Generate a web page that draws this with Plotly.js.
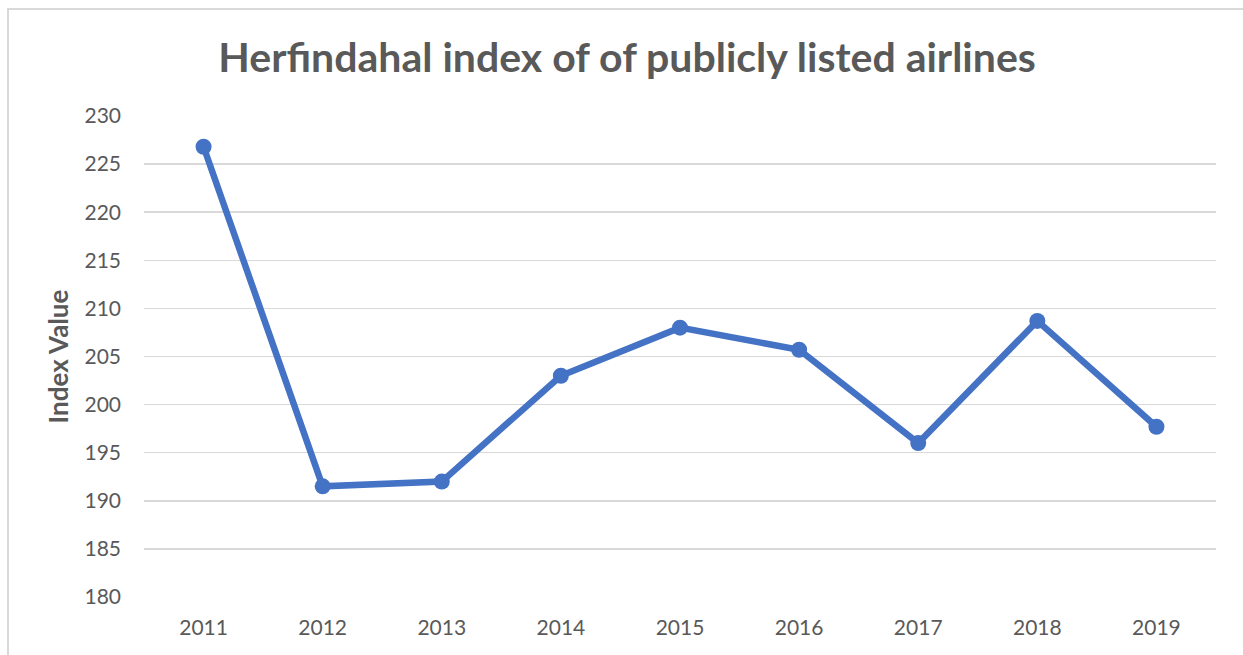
<!DOCTYPE html>
<html>
<head>
<meta charset="utf-8">
<script src="https://cdn.plot.ly/plotly-3.0.1.min.js"></script>
<style>
  html, body { margin: 0; padding: 0; background: #ffffff; }
  #wrap { position: relative; width: 1243px; height: 655px; }
  #chart { position: absolute; left: 0; top: 0; width: 1243px; height: 655px; }
  #frame { position: absolute; left: 7px; top: 8px; width: 1240px; height: 650px;
           border-top: 2px solid #d9d9d9; border-left: 2px solid #d9d9d9; pointer-events: none; }
</style>
</head>
<body>
<div id="wrap">
  <div id="chart"></div>
  <div id="frame"></div>
</div>
<script>
const years = ['2011', '2012', '2013', '2014', '2015', '2016', '2017', '2018', '2019'];
const indexValues = [226.8, 191.5, 192.0, 203.0, 208.0, 205.7, 196.0, 208.7, 197.7];
const yTicks = [180, 185, 190, 195, 200, 205, 210, 215, 220, 225, 230];

const trace = {
  x: years,
  y: indexValues,
  type: 'scatter',
  mode: 'lines+markers',
  line: { color: '#4472C4', width: 6.5 },
  marker: { color: '#4472C4', size: 16 },
  hoverinfo: 'x+y'
};

const layout = {
  width: 1243,
  height: 655,
  paper_bgcolor: '#ffffff',
  plot_bgcolor: '#ffffff',
  margin: { l: 144, r: 27, t: 116, b: 58 },
  showlegend: false,
  font: { family: 'Lato, "Open Sans", sans-serif', color: '#595959' },
  title: {
    text: 'Herfindahal index of of publicly listed airlines',
    font: { family: 'Lato, "Open Sans", sans-serif', size: 41, color: '#595959', weight: 'bold' },
    x: 0.5045, xref: 'container', xanchor: 'center',
    y: 0.912, yref: 'container', yanchor: 'middle'
  },
  xaxis: {
    type: 'category',
    range: [-0.5, years.length - 0.5],
    showgrid: false,
    zeroline: false,
    showline: false,
    ticks: '',
    ticklabelstandoff: 16,
    tickfont: { size: 21, color: '#595959' },
    fixedrange: true
  },
  yaxis: {
    range: [180, 230],
    tickvals: yTicks,
    ticktext: yTicks.map(String),
    showgrid: true,
    gridcolor: '#d9d9d9',
    gridwidth: 1.5,
    zeroline: false,
    showline: false,
    ticks: '',
    ticklabelstandoff: 22,
    tickfont: { size: 21, color: '#595959' },
    title: {
      text: 'Index Value',
      font: { size: 26, color: '#595959', weight: 'bold' },
      standoff: 8
    },
    fixedrange: true
  }
};

Plotly.newPlot('chart', [trace], layout, { displayModeBar: false, staticPlot: true });
</script>
</body>
</html>
